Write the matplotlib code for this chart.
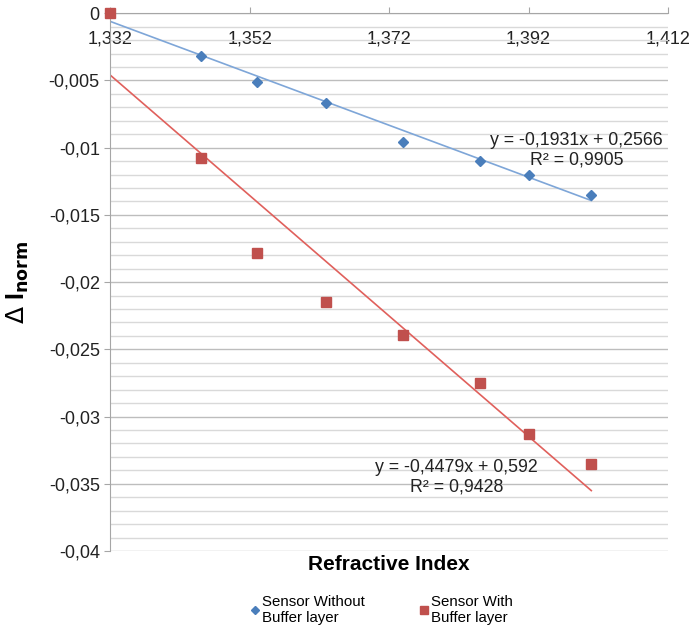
import numpy as np
import matplotlib
matplotlib.use("Agg")
import matplotlib.pyplot as plt
from matplotlib.ticker import FuncFormatter, MultipleLocator, FixedLocator

plt.rcParams["font.family"] = ["Liberation Sans", "DejaVu Sans"]

# refractive index of the test solutions
refr_index = [1.332, 1.345, 1.353, 1.363, 1.374, 1.385, 1.392, 1.401]

# normalised intensity change
no_buffer = [0.0, -0.0032, -0.0051, -0.0067, -0.0096, -0.0110, -0.0120, -0.0135]
with_buffer = [0.0, -0.0108, -0.0178, -0.0215, -0.0239, -0.0275, -0.0313, -0.0335]

# linear fits as printed on the chart (slope, intercept, R^2)
fit_no_buffer = (-0.1931, 0.2566, 0.9905)
fit_with_buffer = (-0.4479, 0.592, 0.9428)

x_ticks = [1.332, 1.352, 1.372, 1.392, 1.412]

blue = "#4a7ebb"
red = "#c0504d"

def comma(v, pos=None):
    s = "%g" % v
    if abs(v) < 1e-12:
        s = "0"
    return s.replace(".", ",")

def comma3(v, pos=None):
    return ("%.3f" % v).replace(".", ",")

fig = plt.figure(figsize=(6.89, 6.29), dpi=100)
ax = fig.add_axes([0.16, 0.124, 0.8095, 0.855])

ax.set_xlim(x_ticks[0], x_ticks[-1])
ax.set_ylim(-0.04, 0)

# grid: minor every 0.001, major every 0.005
ax.yaxis.set_major_locator(MultipleLocator(0.005))
ax.yaxis.set_minor_locator(MultipleLocator(0.001))
ax.xaxis.set_major_locator(FixedLocator(x_ticks))
ax.grid(axis="y", which="minor", color="#d9d9d9", lw=1.0)
ax.grid(axis="y", which="major", color="#bdbdbd", lw=1.0)
ax.set_axisbelow(True)

for s in ["right", "bottom"]:
    ax.spines[s].set_visible(False)
for s in ["left", "top"]:
    ax.spines[s].set_color("#a6a6a6")

ax.xaxis.set_major_formatter(FuncFormatter(comma3))
ax.yaxis.set_major_formatter(FuncFormatter(comma))
ax.xaxis.tick_top()
ax.tick_params(axis="x", which="major", direction="out", length=4, color="#a6a6a6",
               pad=-29, labelsize=13, labelcolor="#222222")
ax.tick_params(axis="y", which="major", direction="out", length=4, color="#a6a6a6",
               labelsize=13, labelcolor="#222222")
ax.tick_params(axis="y", which="minor", length=0)

x = np.array(refr_index)
line_x = np.array([x[0], x[-1]])

m, b, r2 = fit_no_buffer
ax.plot(line_x, m * line_x + b, color="#7ea6d8", lw=1.2, zorder=2)
m, b, r2 = fit_with_buffer
ax.plot(line_x, m * line_x + b, color="#e0605c", lw=1.2, zorder=2)

ax.plot(x, no_buffer, "D", color=blue, ms=5, ls="none", zorder=3,
        label="Sensor Without\nBuffer layer", clip_on=False)
ax.plot(x, with_buffer, "s", color=red, ms=7, ls="none", zorder=4,
        label="Sensor With\nBuffer layer", clip_on=False)

m, b, r2 = fit_no_buffer
ax.text(1.3989, -0.0102, "y = %sx + %s\nR² = %s" % (comma(m), comma(b), comma(r2)),
        ha="center", va="center", fontsize=12.8, color="#222222", linespacing=1.15)
m, b, r2 = fit_with_buffer
ax.text(1.3817, -0.0345, "y = %sx + %s\nR² = %s" % (comma(m), comma(b), comma(r2)),
        ha="center", va="center", fontsize=12.8, color="#222222", linespacing=1.15)

ax.set_xlabel("Refractive Index", fontsize=15, fontweight="bold", labelpad=3)
ax.set_ylabel(r"$\Delta$ I$_{\mathbf{norm}}$", fontsize=18, fontweight="bold", labelpad=13)

fig.legend(loc="center", bbox_to_anchor=(0.554, 0.03), ncol=2, frameon=False,
           fontsize=10.8, handlelength=0.6, handletextpad=0.2, columnspacing=3.6,
           markerscale=0.9, labelspacing=0.2)

fig.savefig("out.png", dpi=100)
